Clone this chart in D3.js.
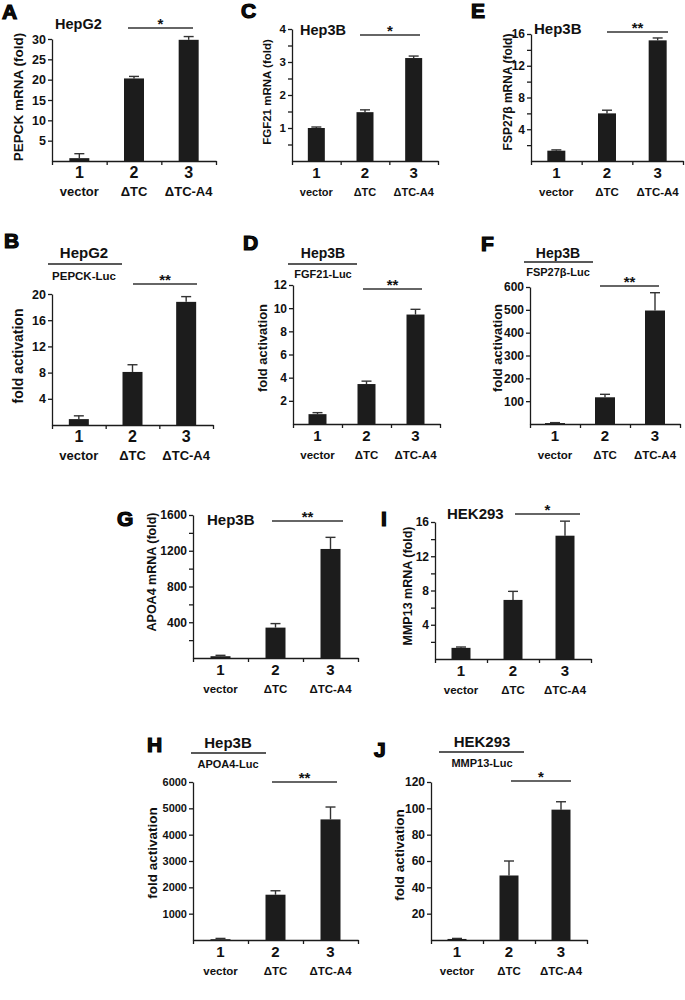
<!DOCTYPE html>
<html><head><meta charset="utf-8">
<script src="https://cdn.jsdelivr.net/npm/d3@7"></script>
<style>
body{margin:0;background:#fff;}
svg text{font-family:"Liberation Sans",Arial,sans-serif;font-weight:bold;fill:#111;}
</style></head><body>
<svg id="fig" width="685" height="1000"></svg>
<script>
// ---------- data ----------
const categories = ["vector", "ΔTC", "ΔTC-A4"];
const laneNumbers = ["1", "2", "3"];

const meanA = [0.7, 20.3, 29.8],  errA = [1.1, 0.5, 0.8];
const meanB = [0.9, 8.1, 18.8],   errB = [0.5, 1.1, 0.8];
const meanC = [1.0, 1.48, 3.12],  errC = [0.03, 0.07, 0.06];
const meanD = [0.85, 3.45, 9.45], errD = [0.13, 0.25, 0.45];
const meanE = [1.3, 6.0, 15.2],   errE = [0.1, 0.4, 0.3];
const meanF = [4, 117, 497],      errF = [2, 13, 78];
const meanG = [20, 340, 1220],    errG = [10, 45, 130];
const meanH = [30, 1720, 4580],   errH = [30, 150, 470];
const meanI = [1.3, 6.9, 14.4],   errI = [0.1, 1.0, 1.7];
const meanJ = [0.8, 49, 99],      errJ = [0.4, 11, 6];

const ticksA = [5, 10, 15, 20, 25, 30], minorA = [];
const ticksB = [4, 8, 12, 16, 20],      minorB = [];
const ticksC = [1, 2, 3, 4],            minorC = [0.5, 1.5, 2.5, 3.5];
const ticksD = [2, 4, 6, 8, 10, 12],    minorD = [];
const ticksE = [4, 8, 12, 16],          minorE = [2, 6, 10, 14];
const ticksF = [100, 200, 300, 400, 500, 600], minorF = [];
const ticksG = [400, 800, 1200, 1600],  minorG = [200, 600, 1000, 1400];
const ticksH = [1000, 2000, 3000, 4000, 5000, 6000], minorH = [];
const ticksI = [4, 8, 12, 16],          minorI = [2, 6, 10, 14];
const ticksJ = [20, 40, 60, 80, 100, 120], minorJ = [];

const yLabels = {A:"PEPCK mRNA (fold)", B:"fold activation", C:"FGF21 mRNA (fold)", D:"fold activation",
  E:"FSP27β mRNA (fold)", F:"fold activation", G:"APOA4 mRNA (fold)", H:"fold activation",
  I:"MMP13 mRNA (fold)", J:"fold activation"};
const cellLines = {A:"HepG2", B:"HepG2", C:"Hep3B", D:"Hep3B", E:"Hep3B", F:"Hep3B", G:"Hep3B", H:"Hep3B", I:"HEK293", J:"HEK293"};
const reporters = {B:"PEPCK-Luc", D:"FGF21-Luc", F:"FSP27β-Luc", H:"APOA4-Luc", J:"MMP13-Luc"};
const significance = {A:"*", B:"**", C:"*", D:"**", E:"**", F:"**", G:"**", H:"**", I:"*", J:"*"};

// ---------- layout (positions / styles only) ----------
const panels = [
 {id:"A", mean:meanA, err:errA, ticks:ticksA, minor:minorA, x0:52, x1:216, y0:161, yTop:39, bw:20,
  tickFs:12.5, numFs:16, catFs:13, ylc:18, yly:97, ylFs:13.5, letter:[2,19],
  title:{x:55, y:29, fs:14.5, anchor:"start"}, sig:[128,193,28]},
 {id:"C", mean:meanC, err:errC, ticks:ticksC, minor:minorC, x0:292, x1:438, y0:161, yTop:29, bw:17,
  tickFs:11.5, numFs:15, catFs:11, ylc:267, yly:92, ylFs:11.5, letter:[241,18],
  title:{x:300, y:35, fs:14.5, anchor:"start"}, sig:[360,420,35]},
 {id:"E", mean:meanE, err:errE, ticks:ticksE, minor:minorE, x0:531, x1:683, y0:161, yTop:34, bw:18,
  tickFs:12, numFs:15, catFs:11.5, ylc:508, yly:92, ylFs:12, letter:[471,18],
  title:{x:534, y:34, fs:15, anchor:"start"}, sig:[607,668,32]},
 {id:"B", mean:meanB, err:errB, ticks:ticksB, minor:minorB, x0:52, x1:213, y0:425, yTop:294, bw:20,
  tickFs:12.5, numFs:16, catFs:13, ylc:18, yly:356, ylFs:14, letter:[4,248],
  title:{x:84, y:258, fs:15, anchor:"middle", line:[48,122,264], subY:280, subFs:11.5}, sig:[133,197,284]},
 {id:"D", mean:meanD, err:errD, ticks:ticksD, minor:minorD, x0:293, x1:440, y0:424, yTop:285, bw:18,
  tickFs:12, numFs:15, catFs:11.5, ylc:262, yly:348, ylFs:13, letter:[243,250],
  title:{x:323, y:258, fs:14, anchor:"middle", line:[288,357,264], subY:278, subFs:11}, sig:[363,422,289]},
 {id:"F", mean:meanF, err:errF, ticks:ticksF, minor:minorF, x0:530, x1:680, y0:424, yTop:287, bw:20,
  tickFs:12, numFs:15, catFs:11.5, ylc:497, yly:348, ylFs:13, letter:[481,251],
  title:{x:558, y:258, fs:14, anchor:"middle", line:[524,593,262], subY:276, subFs:11}, sig:[600,659,286]},
 {id:"G", mean:meanG, err:errG, ticks:ticksG, minor:minorG, x0:193, x1:358, y0:658, yTop:515, bw:20,
  tickFs:12, numFs:15, catFs:11.5, ylc:151, yly:572, ylFs:12.5, letter:[117,526],
  title:{x:207, y:525, fs:15, anchor:"start"}, sig:[272,343,521]},
 {id:"I", mean:meanI, err:errI, ticks:ticksI, minor:minorI, x0:435, x1:591, y0:659, yTop:522, bw:19,
  tickFs:12, numFs:15, catFs:11.5, ylc:407, yly:586, ylFs:12.5, letter:[381,526],
  title:{x:447, y:519, fs:15, anchor:"start"}, sig:[515,580,514]},
 {id:"H", mean:meanH, err:errH, ticks:ticksH, minor:minorH, x0:193, x1:358, y0:940, yTop:782, bw:20,
  tickFs:11, numFs:15, catFs:11.5, ylc:152, yly:853, ylFs:13.5, letter:[147,752],
  title:{x:228, y:748, fs:15, anchor:"middle", line:[191,266,753], subY:768, subFs:11}, sig:[272,337,782]},
 {id:"J", mean:meanJ, err:errJ, ticks:ticksJ, minor:minorJ, x0:431, x1:587, y0:940, yTop:782, bw:19,
  tickFs:12, numFs:15, catFs:11.5, ylc:399, yly:855, ylFs:13.5, letter:[374,757],
  title:{x:482, y:747, fs:15, anchor:"middle", line:[439,524,752], subY:767, subFs:11}, sig:[511,571,781]}
];

const svg = d3.select("#fig");
const ink = "#1b1b1b";

panels.forEach(p => {
  const g = svg.append("g").attr("class", "panel-" + p.id);
  const ymax = p.ticks[p.ticks.length - 1];
  const y = d3.scaleLinear().domain([0, ymax]).range([p.y0, p.yTop]);
  const xb = d3.scaleBand().domain(categories).range([p.x0, p.x1]).padding(0);
  const xl = d3.scaleLinear().domain([0, categories.length]).range([p.x0, p.x1]);

  // y axis
  const ya = g.append("g").attr("transform", `translate(${p.x0},0)`)
    .call(d3.axisLeft(y).tickValues(p.ticks).tickSize(4).tickSizeOuter(0).tickPadding(2).tickFormat(d3.format("d")));
  ya.select(".domain").attr("stroke", ink).attr("stroke-width", 1.3);
  ya.selectAll(".tick line").attr("stroke", ink).attr("stroke-width", 1.3);
  ya.selectAll(".tick text").attr("font-size", p.tickFs).attr("fill", "#111")
    .attr("font-family", "'Liberation Sans',Arial,sans-serif").attr("font-weight", "bold");
  if (p.minor.length) {
    const ym = g.append("g").attr("transform", `translate(${p.x0},0)`)
      .call(d3.axisLeft(y).tickValues(p.minor).tickSize(4).tickSizeOuter(0).tickFormat(""));
    ym.select(".domain").remove();
    ym.selectAll(".tick line").attr("stroke", ink).attr("stroke-width", 1.3);
  }
  // x axis (ticks at band boundaries)
  const xa = g.append("g").attr("transform", `translate(0,${p.y0})`)
    .call(d3.axisBottom(xl).tickValues(d3.range(categories.length + 1)).tickSize(4).tickSizeOuter(0).tickFormat(""));
  xa.select(".domain").attr("stroke", ink).attr("stroke-width", 1.3);
  xa.selectAll(".tick line").attr("stroke", ink).attr("stroke-width", 1.3);

  const cx = c => xb(c) + xb.bandwidth() / 2;
  const rows = categories.map((c, i) => ({c, i, n: laneNumbers[i], m: p.mean[i], e: p.err[i]}));

  // error bars (behind bars)
  g.selectAll("line.err").data(rows).join("line").attr("class", "err")
    .attr("x1", d => cx(d.c)).attr("x2", d => cx(d.c))
    .attr("y1", d => y(d.m)).attr("y2", d => y(d.m + d.e))
    .attr("stroke", "#333").attr("stroke-width", 1.4);
  g.selectAll("line.cap").data(rows).join("line").attr("class", "cap")
    .attr("x1", d => cx(d.c) - 5).attr("x2", d => cx(d.c) + 5)
    .attr("y1", d => y(d.m + d.e)).attr("y2", d => y(d.m + d.e))
    .attr("stroke", "#333").attr("stroke-width", 1.4);
  // bars
  g.selectAll("rect.bar").data(rows).join("rect").attr("class", "bar")
    .attr("x", d => cx(d.c) - p.bw / 2).attr("width", p.bw)
    .attr("y", d => y(d.m)).attr("height", d => y(0) - y(d.m))
    .attr("fill", "#1c1c1c");

  // lane numbers
  g.selectAll("text.num").data(rows).join("text").attr("class", "num")
    .attr("x", d => cx(d.c)).attr("y", p.y0 + 17).attr("text-anchor", "middle")
    .attr("font-size", p.numFs).text(d => d.n);
  // category labels (below the lane numbers)
  g.selectAll("text.cat").data(rows).join("text").attr("class", "cat")
    .attr("x", d => cx(d.c)).attr("y", p.y0 + 35).attr("text-anchor", "middle")
    .attr("font-size", p.catFs).text(d => d.c);

  // y label
  g.append("text").attr("transform", `translate(${p.ylc + p.ylFs * 0.36},${p.yly}) rotate(-90)`)
    .attr("text-anchor", "middle").attr("font-size", p.ylFs).text(yLabels[p.id]);

  // title
  g.append("text").attr("x", p.title.x).attr("y", p.title.y).attr("text-anchor", p.title.anchor)
    .attr("font-size", p.title.fs).text(cellLines[p.id]);
  if (p.title.line) {
    g.append("line").attr("x1", p.title.line[0]).attr("x2", p.title.line[1])
      .attr("y1", p.title.line[2]).attr("y2", p.title.line[2]).attr("stroke", "#222").attr("stroke-width", 1.6);
    g.append("text").attr("x", p.title.x).attr("y", p.title.subY).attr("text-anchor", "middle")
      .attr("font-size", p.title.subFs).text(reporters[p.id]);
  }
  // significance
  g.append("line").attr("x1", p.sig[0]).attr("x2", p.sig[1]).attr("y1", p.sig[2]).attr("y2", p.sig[2])
    .attr("stroke", "#333").attr("stroke-width", 1.4);
  g.append("text").attr("x", (p.sig[0] + p.sig[1]) / 2).attr("y", p.sig[2] + 1).attr("text-anchor", "middle")
    .attr("font-size", 15).text(significance[p.id]);

  // panel letter
  g.append("text").attr("x", p.letter[0]).attr("y", p.letter[1]).attr("font-size", 21)
    .attr("stroke", "#000").attr("stroke-width", 1.2).attr("fill", "#000").text(p.id);
});
</script>
</body></html>
